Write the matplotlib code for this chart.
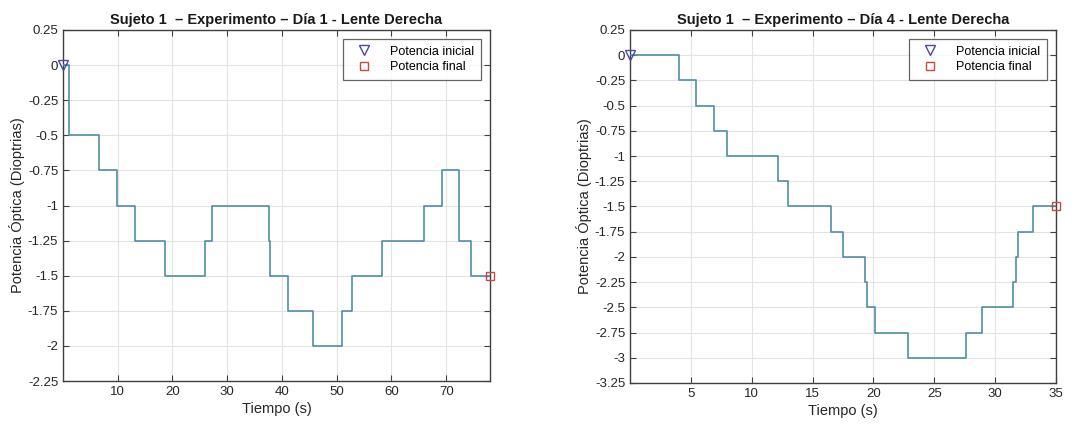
import matplotlib
matplotlib.use("Agg")
import matplotlib.pyplot as plt
import numpy as np

plt.rcParams['font.family'] = ['Liberation Sans', 'DejaVu Sans']
plt.rcParams['axes.unicode_minus'] = False

# Day 1 data
t1 = [0, 1.1, 6.5, 9.8, 13.2, 18.6, 26.0, 27.2, 37.6, 37.9, 41.1, 45.6, 51.0, 52.8, 58.2, 65.9, 69.2, 72.4, 74.5, 78.0]
v1 = [0, -0.5, -0.75, -1, -1.25, -1.5, -1.25, -1.0, -1.25, -1.5, -1.75, -2.0, -1.75, -1.5, -1.25, -1.0, -0.75, -1.25, -1.5, -1.5]

# Day 4 data
t4 = [0, 4.0, 5.4, 6.9, 8.0, 12.2, 13.0, 16.5, 17.5, 19.3, 19.5, 20.1, 22.8, 27.6, 28.9, 31.5, 31.75, 31.9, 33.1, 35.0]
v4 = [0, -0.25, -0.5, -0.75, -1.0, -1.25, -1.5, -1.75, -2.0, -2.25, -2.5, -2.75, -3.0, -2.75, -2.5, -2.25, -2.0, -1.75, -1.5, -1.5]

titles = ["Sujeto 1  \u2013 Experimento \u2013 Día 1 - Lente Derecha",
          "Sujeto 1  \u2013 Experimento \u2013 Día 4 - Lente Derecha"]
xticks1 = [10, 20, 30, 40, 50, 60, 70]
xticks4 = [5, 10, 15, 20, 25, 30, 35]
yticks1 = [0.25, 0, -0.25, -0.5, -0.75, -1, -1.25, -1.5, -1.75, -2, -2.25]
yticks4 = [0.25, 0, -0.25, -0.5, -0.75, -1, -1.25, -1.5, -1.75, -2, -2.25, -2.5, -2.75, -3, -3.25]

fig = plt.figure(figsize=(10.91, 4.30), dpi=100)
ax1 = fig.add_axes([63/1091, 49/430, 427/1091, 351/430])
ax2 = fig.add_axes([630/1091, 47/430, 426/1091, 353/430])

line_c = '#4f8fa5'
spine_c = '#404040'
txt_c = '#262626'

def fmt(v):
    return '%g' % v

def setup(ax, t, v, title, xt, yt, xlim, ylim):
    ax.step(t, v, where='post', color=line_c, lw=1.2, zorder=3)
    ax.plot([t[0]], [v[0]], marker='v', ls='none', mfc='none', mec='#4848a8', ms=6.5, mew=1.0,
            label='Potencia inicial', zorder=4, clip_on=False)
    ax.plot([t[-1]], [v[-1]], marker='s', ls='none', mfc='none', mec='#c84848', ms=5.5, mew=1.0,
            label='Potencia final', zorder=4, clip_on=False)
    ax.set_xlim(*xlim)
    ax.set_ylim(*ylim)
    ax.set_xticks(xt)
    ax.set_yticks(yt)
    ax.set_yticklabels([fmt(y) for y in yt])
    ax.grid(True, color='#e3e3e3', lw=0.8, zorder=0)
    ax.tick_params(direction='in', top=True, right=True, length=4, width=0.8,
                   colors=spine_c, labelcolor=txt_c, labelsize=9.5)
    for s in ax.spines.values():
        s.set_color(spine_c)
        s.set_linewidth(1.0)
    ax.set_title(title, fontsize=10.5, fontweight='bold', color='#1a1a1a', pad=4)
    ax.set_xlabel('Tiempo (s)', fontsize=10.5, color=txt_c, labelpad=3)
    ax.set_ylabel('Potencia Óptica (Dioptrias)', fontsize=10.5, color=txt_c, labelpad=2)
    leg = ax.legend(loc='upper right', fontsize=9, frameon=True, fancybox=False,
                    edgecolor=spine_c, borderpad=0.5, handlelength=2.4, handletextpad=0.9,
                    borderaxespad=0.75, labelspacing=0.3)
    leg.get_frame().set_linewidth(0.9)

setup(ax1, t1, v1, titles[0], xticks1, yticks1, (0, 78), (-2.25, 0.25))
setup(ax2, t4, v4, titles[1], xticks4, yticks4, (0, 35), (-3.25, 0.25))

fig.savefig('out.png', dpi=100)
